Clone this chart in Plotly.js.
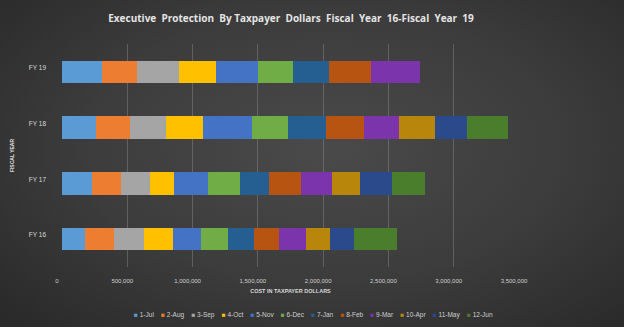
<!DOCTYPE html>
<html>
<head>
<meta charset="utf-8">
<script src="https://cdn.plot.ly/plotly-3.0.1.min.js"></script>
<style>
html,body{margin:0;padding:0;}
body{width:624px;height:327px;overflow:hidden;
background:radial-gradient(ellipse 70% 75% at 52% 45%, #4a4a4a 0%, #3c3c3c 55%, #2a2a2a 100%);}
#chart{width:624px;height:327px;}
</style>
</head>
<body>
<div id="chart"></div>
<script>
// Data
const fiscalYears = ['FY 16', 'FY 17', 'FY 18', 'FY 19'];
const months = ['1-Jul','2-Aug','3-Sep','4-Oct','5-Nov','6-Dec','7-Jan','8-Feb','9-Mar','10-Apr','11-May','12-Jun'];
const fy16 = [179000, 219000, 227000, 224000, 217000, 204000, 197000, 194000, 204000, 189000, 186000, 324000];
const fy17 = [230000, 222000, 220000, 184000, 260000, 245000, 224000, 248000, 237000, 214000, 240000, 258000];
const fy18 = [258000, 260000, 276000, 286000, 378000, 270000, 291000, 291000, 270000, 273000, 250000, 316000];
const fy19 = [306000, 271000, 316000, 283000, 322000, 270000, 276000, 319000, 381000];
const xTicks = [0, 500000, 1000000, 1500000, 2000000, 2500000, 3000000, 3500000];

const colors = ['#5b9bd5','#ed7d31','#a5a5a5','#ffc000','#4472c4','#70ad47',
                '#255e91','#b85412','#7b34ab','#b8860b','#2b4a8c','#4a7d2c'];

const traces = months.map((m, i) => ({
  type: 'bar',
  orientation: 'h',
  name: m,
  y: fiscalYears,
  x: [fy16[i], fy17[i], fy18[i], fy19[i] === undefined ? null : fy19[i]],
  marker: {color: colors[i], line: {width: 0}},
  hoverinfo: 'skip'
}));

const NB = '\u00A0';
const legendText = months.map((m, i) =>
  '<span style="color:' + colors[i] + '">■</span>' + NB + m).join(NB + NB + NB + NB);

const layout = {
  width: 624, height: 327,
  paper_bgcolor: 'rgba(0,0,0,0)',
  plot_bgcolor: 'rgba(0,0,0,0)',
  margin: {l: 62, r: 105, t: 44, b: 60, pad: 0},
  barmode: 'stack',
  bargap: 0.6,
  showlegend: false,
  font: {family: 'Liberation Sans, Arial, sans-serif', color: '#d4d4d4'},
  title: {
    text: 'Executive\u00A0 Protection\u00A0 By Taxpayer\u00A0 Dollars\u00A0 Fiscal\u00A0 Year\u00A0 16-Fiscal\u00A0 Year\u00A0 19',
    font: {family: 'Open Sans, Liberation Sans, sans-serif', size: 10, color: '#e4e4e4', weight: 'bold'},
    x: 291 / 624, xanchor: 'center', xref: 'container',
    y: 1 - 18 / 327, yanchor: 'middle', yref: 'container'
  },
  xaxis: {
    range: [0, 3500000],
    tickvals: xTicks,
    ticktext: xTicks.map(v => v.toLocaleString('en-US')),
    tickfont: {size: 6, color: '#cfcfcf'},
    ticklabelshift: -5,
    ticklabelstandoff: 9,
    showgrid: true,
    gridcolor: 'rgba(150,150,150,0.4)',
    gridwidth: 1,
    zeroline: false,
    showline: false,
    ticks: '',
    title: {text: '<b>COST IN TAXPAYER DOLLARS</b>', font: {size: 5.5, color: '#d8d8d8'}, standoff: 6}
  },
  yaxis: {
    type: 'category',
    categoryarray: fiscalYears,
    range: [-0.5, 3.5],
    tickfont: {size: 6.5, color: '#d8d8d8'},
    ticklabelstandoff: 15,
    ticklabelshift: -4,
    showgrid: false,
    zeroline: false,
    showline: false,
    ticks: '',
    title: {text: '<b>FISCAL YEAR</b>', font: {size: 5, color: '#e0e0e0'}, standoff: 14}
  },
  annotations: [{
    text: legendText,
    xref: 'paper', yref: 'paper',
    x: (313.5 - 62) / 457, y: (267 - 315) / 223,
    xanchor: 'center', yanchor: 'middle',
    showarrow: false,
    font: {size: 6.5, color: '#cfcfcf', family: 'Liberation Sans, Arial, sans-serif'}
  }]
};

Plotly.newPlot('chart', traces, layout, {displayModeBar: false, staticPlot: true});
</script>
</body>
</html>
